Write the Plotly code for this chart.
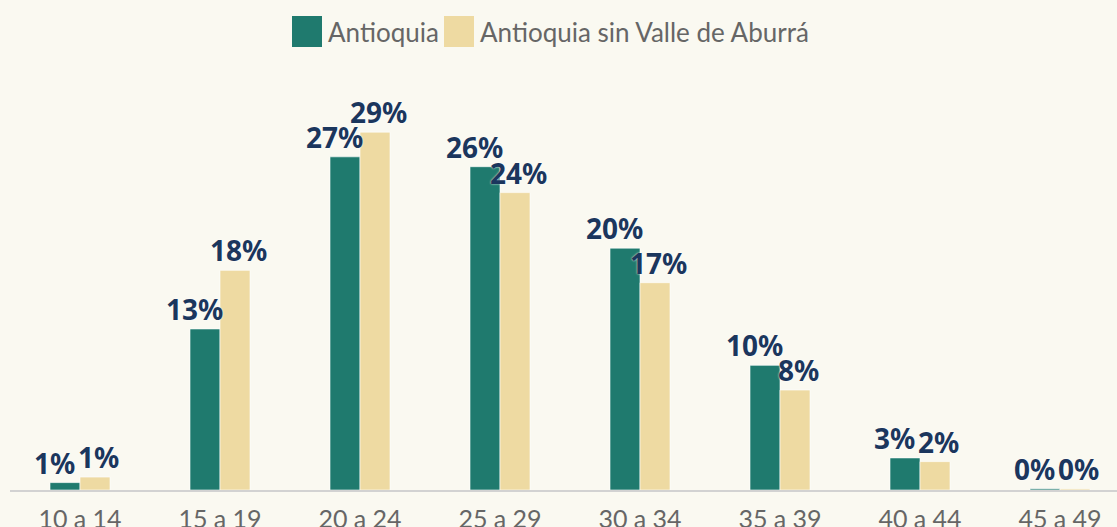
import plotly.graph_objects as go

categories = ["10 a 14", "15 a 19", "20 a 24", "25 a 29", "30 a 34", "35 a 39", "40 a 44", "45 a 49"]
antioquia = [0.6, 13.05, 27.0, 26.2, 19.6, 10.1, 2.6, 0.1]
sin_valle = [1.05, 17.8, 29.0, 24.1, 16.8, 8.1, 2.3, 0.1]
series_names = ["Antioquia", "Antioquia sin Valle de Aburrá"]

TEAL = "#1F7A6E"
CREAM = "#EEDAA2"
BG = "#FAF9F1"
NAVY = "#1B365D"
GRAY = "#666666"

W, H = 1117, 527
ML, MT, MB = 10, 80, 37
PLOT_H = H - MT - MB
PLOT_W = W - ML
PX_PER_CAT = 140.0
BAR_PX = 30


def lbl(vals):
    return [f"{round(v):.0f}%" for v in vals]


fig = go.Figure()
series = [(series_names[0], antioquia, TEAL, -BAR_PX / 2 - 11),
          (series_names[1], sin_valle, CREAM, BAR_PX / 2 + 3)]
for name, vals, col, shift in series:
    fig.add_trace(go.Bar(
        x=categories, y=vals, name=name,
        marker=dict(color=col, line=dict(color="rgba(255,255,255,0.6)", width=1)),
        showlegend=False,
    ))
    for c, v, t in zip(categories, vals, lbl(vals)):
        fig.add_annotation(x=c, y=v, text=t, xref="x", yref="y", showarrow=False,
                           xanchor="center", yanchor="bottom", xshift=shift, yshift=-1,
                           font=dict(family="'Noto Sans', 'Open Sans', sans-serif", size=28,
                                     color=NAVY, weight="bold", shadow="0px 0px 2px #ffffff"))

# manual legend
def px_x(x):
    return (x - ML) / PLOT_W

def px_y(y):
    return (H - MB - y) / PLOT_H

legend_items = [(series_names[0], TEAL, 292, 322), (series_names[1], CREAM, 444, 474)]
for name, col, x0, x1 in legend_items:
    fig.add_shape(type="rect", xref="paper", yref="paper",
                  x0=px_x(x0), x1=px_x(x1), y0=px_y(47), y1=px_y(16),
                  fillcolor=col, line=dict(width=0))
    fig.add_annotation(text=name, xref="paper", yref="paper", x=px_x(x1 + 4), y=px_y(32),
                       xanchor="left", yanchor="middle", showarrow=False,
                       font=dict(family="Lato, 'Noto Sans', sans-serif", size=26, color=GRAY))

fig.update_layout(
    width=W, height=H,
    margin=dict(l=ML, r=0, t=MT, b=MB, autoexpand=False),
    paper_bgcolor=BG, plot_bgcolor=BG,
    barmode="group", bargap=1 - 2 * BAR_PX / PX_PER_CAT, bargroupgap=0,
    xaxis=dict(range=[-0.5, -0.5 + PLOT_W / PX_PER_CAT], showgrid=False, zeroline=False,
               automargin=False,
               showline=True, linecolor="#D2D2D2", linewidth=2,
               ticks="outside", ticklen=6, tickcolor=BG,
               tickfont=dict(family="Lato, 'Noto Sans', sans-serif", size=25, color=GRAY)),
    yaxis=dict(range=[0, PLOT_H / 12.34], visible=False, showgrid=False, zeroline=False,
               automargin=False),
)

fig.write_html("out.html", config={"displayModeBar": False},
               post_script="document.body.style.margin='0';document.body.style.overflow='hidden';document.body.style.background='" + BG + "';")
